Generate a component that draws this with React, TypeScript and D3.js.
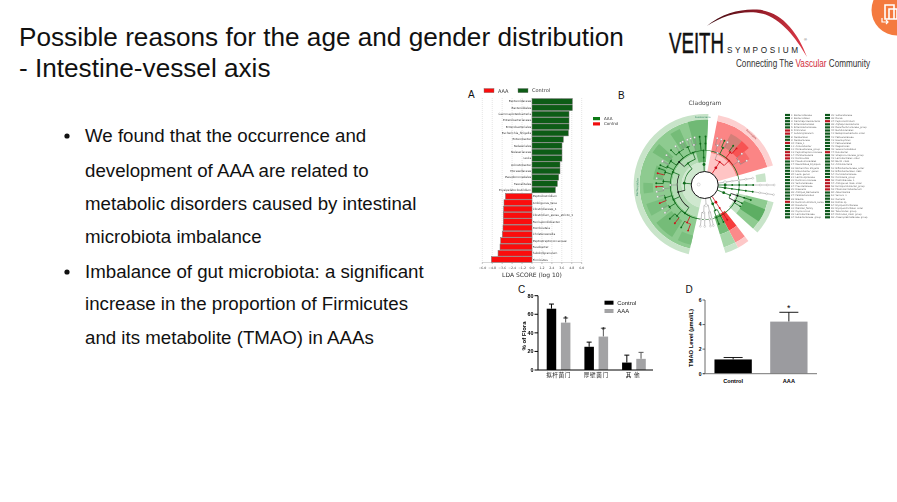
import * as React from 'react';
import * as d3 from 'd3';

const width = 897;
const height = 502;

const titleLines = ['Possible reasons for the age and gender distribution', '- Intestine-vessel axis'];
const bullets = [
  ['We found that the occurrence and', 'development of AAA are related to', 'metabolic disorders caused by intestinal', 'microbiota imbalance'],
  ['Imbalance of gut microbiota: a significant', 'increase in the proportion of Firmicutes', 'and its metabolite (TMAO) in AAAs'],
];

// panel A
const ldaTaxa = [
  'Bacteroidaceae', 'Bacteroidales', 'Gammaproteobacteria', 'Enterobacteriaceae', 'Enterobacteriales',
  'Escherichia_Shigella', 'Enterobacter', 'Neisseriales', 'Neisseriaceae', 'Levia', 'Acinetobacter',
  'Moraxellaceae', 'Pseudomonadales', 'Faecalitalea', 'Erysipelatoclostridium', 'Peptoclostridium',
  'Ambiguous_taxa', 'Clostridiaceae_1', 'Clostridium_sensu_stricto_1', 'Ferrispondiobacter', 'Romboutsia',
  'Christensenella', 'Peptostreptococcaceae', 'Fusobacter', 'Subdoligranulum', 'Firmicutes',
];
const ldaScores = [
  4.87, 4.87, 4.47, 4.47, 4.47, 4.39, 3.78, 3.62, 3.62, 3.62, 3.38, 3.38, 3.22, 3.06, 2.82,
  -3.2, -3.38, -3.42, -3.46, -3.46, -3.5, -3.58, -3.78, -3.86, -4.1, -4.9,
];
const ldaTicks = [-6, -4.8, -3.6, -2.4, -1.2, 0, 1.2, 2.4, 3.6, 4.8, 6];

// panel B: [start deg, end deg, inner ring, outer ring, colour]
type Sector = [number, number, number, number, string];
const sectors: Sector[] = [
  [193, 363, 0, 1, '#cfe8cf'], [193, 363, 1, 2, '#b5dcb6'], [193, 363, 2, 5.4, '#8ecb90'], [193, 363, 5.4, 6, '#c8e4c9'],
  [345, 363, 1, 5.4, '#6fb974'], [326, 336, 3, 5, '#74bc78'], [302, 312, 3, 5, '#74bc78'], [276, 292, 3, 4, '#74bc78'],
  [262, 272, 4, 5, '#7abf7e'], [240, 252, 3, 5, '#7abf7e'], [212, 232, 3, 5, '#74bc78'], [193, 206, 4, 5, '#7abf7e'],
  [11, 74, 0, 2, '#ffc4c4'], [11, 74, 2, 5.4, '#fb8585'], [11, 74, 5.4, 6, '#fdd0d0'],
  [27, 40, 3, 4.6, '#d37f78'], [40, 50, 3, 4.6, '#f75252'], [50, 60, 3, 4, '#f76a6a'],
  [79, 87, 4, 5, '#c8e4c9'],
  [104, 132, 2, 3, '#c0e1c1'], [104, 132, 3, 5.4, '#8ecb90'], [104, 132, 5.4, 6, '#c8e4c9'], [112, 124, 3, 5.4, '#5dae63'],
  [142, 152, 2, 4, '#f63c3c'], [142, 152, 4, 5.4, '#fb8a8a'], [142, 152, 5.4, 6, '#fdc8c8'],
  [152, 163, 2, 4, '#74bc78'], [152, 163, 4, 5.4, '#a5d6a7'], [152, 163, 5.4, 6, '#c8e4c9'],
];

type Clade = [number, string, Clade[]?];
// straight run of nodes at one angle, one tone letter per level
const chain = (angle: number, tones: string): Clade =>
  tones.length === 1 ? [angle, tones] : [angle, tones[0], [chain(angle, tones.slice(1))]];

const cladeTree: Clade[] = [
  [275, 'G', [
    [322, 'G', [
      [312, 'K', [[305, 'G', [[300, 'W'], [308, 'W']]], [322, 'G', [[316, 'G'], [323, 'W'], [330, 'W']]]]],
      [340, 'G', [[336, 'G', [[333, 'W'], [339, 'W']]], [345, 'W', [[343, 'W'], [348, 'W']]]]],
    ]],
    [255, 'K', [
      [292, 'G', [[288, 'G', [[284, 'R'], [290, 'G']]], [296, 'G', [[294, 'G'], [299, 'W']]]]],
      [270, 'W', [[265, 'W', [[262, 'W'], [268, 'R']]], [275, 'G', [[272, 'G'], [278, 'W']]]]],
      [245, 'G', [[252, 'G', [[248, 'R'], [256, 'W']]], [238, 'G', [[235, 'W'], [241, 'W']]]]],
      [215, 'G', [[222, 'G', [[218, 'R'], [226, 'G']]], [205, 'R', [[200, 'R'], [209, 'G']]]]],
    ]],
  ]],
  [358, 'G', [
    [358, 'G', [
      [358, 'G', [chain(354, 'GG'), chain(1, 'GG')]],
    ]],
  ]],
  [33, 'R', [
    [33, 'R', [
      [22, 'W', [[18, 'W', [[15, 'W'], [20, 'W']]], [26, 'G', [[24, 'G'], [28, 'W']]]]],
      [45, 'R', [[38, 'R', [[36, 'G'], [41, 'R']]], [55, 'W', [[50, 'W'], [60, 'W']]]]],
    ]],
  ]],
  chain(82, 'WWWWW'),
  chain(90, 'GGGGGWWW'),
  chain(98, 'GGGGGWWW'),
  [112, 'G', [
    [112, 'G', [
      chain(108, 'KGG'),
      [118, 'K', [[116, 'G'], [121, 'G']]],
    ]],
  ]],
  chain(147, 'RRRR'),
  [157, 'G', [
    [157, 'G', [chain(153, 'GG'), chain(160, 'GG')]],
  ]],
  [176, 'W', [
    [170, 'W', [chain(168, 'WW'), chain(172, 'WW')]],
    [182, 'W', [chain(180, 'WW'), chain(186, 'WW')]],
  ]],
];
const cladeColors: Record<string, string> = { G: '#0f6b1a', R: '#d0101a', K: '#111111', W: '#ffffff' };

const legendColA = [
  'Bacteroidaceae', 'Bacteroidales', 'Gammaproteobacteria', 'Enterobacteriales', 'Enterobacteriaceae', 'Firmicutes',
  'Subdoligranulum', 'Neisseriales', 'Neisseriaceae', 'Clade_1', 'Acinetobacter', 'Moraxellaceae_group',
  'Peptostreptococcaceae', 'Christensenella', 'Romboutsia', 'Pseudomonadales', 'Faecalitalea_Erysipelo', 'Escherichia_Shigella',
  'Enterobacter_genus', 'Levia_genus', 'Lachnospiraceae', 'Ruminococcaceae', 'Veillonellaceae', 'Prevotellaceae',
  'Rikenella', 'Alistipes_Barnesiella', 'Parabacteroides', 'Blautia', 'Ruminiclostridium_sensu', 'Roseburia',
  'Dialister_family', 'Coprococcus', 'Lactobacillaceae', 'Eubacteriaceae_group',
];
const legendColARed = [5, 6, 9, 12, 13, 14, 28];
const legendColB = [
  'Sutterellaceae', 'Dorea', 'Peptoclostridium', 'Alphaproteobacteria', 'Desulfovibrionaceae_group', 'Burkholderiales',
  'Betaproteobacteria_order', 'Pasteurellaceae', 'Haemophilus', 'Pasteurellales', 'Megamonas', 'Selenomonadales',
  'Fusobacter', 'Streptococcaceae_group', 'Lactobacillales_order', 'Bacilli_class', 'Actinobacteria', 'Bifidobacteriaceae_order',
  'Bifidobacteriales_class', 'Coriobacteriaceae', 'Collinsella_group', 'Clostridiaceae_1', 'Ambiguous_taxa_order', 'Ferrispondiobacter_group',
  'Phascolarctobacterium', 'Akkermansia', 'Verruco_1', 'Gemella', 'Rothia_sp', 'Erysipelotrichaceae', 'Erysipelotrichales_order', 'Tenericutes_group',
  'Mollicutes_class_group', 'Anaeroplasmataceae_group',
];
const legendColBRed = [2, 12, 21, 22, 23, 24];

// panel C
const floraGroups = ['拟杆菌门', '厚壁菌门', '其他'];
const floraSeries = ['Control', 'AAA'];
const floraValues = [[66, 25, 8], [51, 36, 12]];
const floraErrors = [[71, 30, 16], [56, 45, 19]];
const floraTicks = [0, 20, 40, 60, 80];

// panel D
const tmaoGroups = ['Control', 'AAA'];
const tmaoValues = [1.16, 4.24];
const tmaoErrors = [1.32, 5.0];
const tmaoTicks = [0, 2, 4, 6];

const sans = '"Liberation Sans", Arial, sans-serif';
const rad = (deg: number) => (deg * Math.PI) / 180;

const LdaPanel = () => {
  const x = d3.scaleLinear([-6, 6], [482.3, 581.7]);
  const y = d3.scaleBand(ldaTaxa, [98.6, 262.4]).paddingInner(0.1);
  return (
    <g fontFamily="'DejaVu Sans', sans-serif" filter="url(#soft)">
      {ldaTicks.map((t) => (
        <g key={t}>
          <line x1={x(t)} x2={x(t)} y1={98} y2={262.5} stroke="#bbbbbb" strokeWidth={0.4} strokeDasharray="1 1" />
          <line x1={x(t)} x2={x(t)} y1={262.5} y2={264} stroke="#666" strokeWidth={0.4} />
          <text x={x(t)} y={268.5} fontSize={3.2} fill="#444" textAnchor="middle">{t.toFixed(1).replace('-', '−')}</text>
        </g>
      ))}
      {ldaTaxa.map((name, i) => {
        const v = ldaScores[i];
        const pos = v > 0;
        return (
          <g key={name}>
            <rect x={Math.min(x(0), x(v))} y={y(name)} width={Math.abs(x(v) - x(0))} height={y.bandwidth()}
              fill={pos ? '#0b5c12' : '#fb0f0f'} stroke="#777" strokeWidth={0.5} />
            <text x={pos ? x(0) - 0.8 : x(0) + 0.8} y={y(name)! + y.bandwidth() / 2 + 1} fontSize={2.9} fill="#333"
              textAnchor={pos ? 'end' : 'start'}>{name}</text>
          </g>
        );
      })}
      <line x1={482} x2={582} y1={262.5} y2={262.5} stroke="#999" strokeWidth={0.4} />
      <text x={532} y={276.5} fontSize={6} fill="#333" textAnchor="middle">LDA SCORE (log 10)</text>
      <rect x={484} y={88.5} width={10} height={4.2} fill="#fb0f0f" stroke="#777" strokeWidth={0.4} />
      <text x={498} y={92.6} fontSize={5} fill="#333">AAA</text>
      <rect x={518} y={88.5} width={10} height={4.2} fill="#0b5c12" stroke="#777" strokeWidth={0.4} />
      <text x={532} y={92.2} fontSize={5} fill="#333">Control</text>
      <rect x={593} y={117} width={7} height={3.2} fill="#0b7a16" />
      <text x={604} y={120.2} fontSize={4} fill="#333">AAA</text>
      <rect x={593} y={122.3} width={7} height={3.2} fill="#f01010" />
      <text x={604} y={125.3} fontSize={4} fill="#333">Control</text>
    </g>
  );
};

const Cladogram = () => {
  const cx = 704.7;
  const cy = 185;
  const ring = d3.scaleLinear([0, 6], [13.5, 71]);
  const level = d3.scaleLinear([0, 8], [13.5, 69.5]);
  const arc = d3.arc();
  const pt = (deg: number, depth: number) => {
    const r = level(depth);
    return [cx + r * Math.sin(rad(deg)), cy - r * Math.cos(rad(deg))];
  };
  const edges: React.ReactNode[] = [];
  const dots: React.ReactNode[] = [];
  const walk = (node: Clade, depth: number, key: string) => {
    const [angle, tone, kids] = node;
    const [x0, y0] = pt(angle, depth - 1);
    const [x1, y1] = pt(angle, depth);
    const leafy = tone === 'W';
    const stroke = leafy ? '#888' : cladeColors[tone];
    edges.push(<line key={`e${key}`} x1={x0} y1={y0} x2={x1} y2={y1} stroke={stroke} strokeWidth={leafy ? 0.5 : 0.8} />);
    if (kids && kids.length) {
      const angles = kids.map((k) => k[0]);
      const a0 = Math.min(...angles, angle);
      const a1 = Math.max(...angles, angle);
      const r = level(depth);
      edges.push(
        <path key={`a${key}`} transform={`translate(${cx},${cy})`}
          d={arc({ innerRadius: r - 0.35, outerRadius: r + 0.35, startAngle: rad(a0), endAngle: rad(a1) })!}
          fill={leafy ? '#888' : cladeColors[tone]} />
      );
      kids.forEach((k, i) => walk(k, depth + 1, `${key}-${i}`));
    }
    dots.push(<circle key={`d${key}`} cx={x1} cy={y1} r={depth === 1 ? 1.4 : 0.95} fill={cladeColors[tone]} stroke={leafy ? '#777' : 'none'} strokeWidth={0.25} />);
  };
  cladeTree.forEach((n, i) => walk(n, 1, `${i}`));
  return (
    <g filter="url(#soft)">
      <text x={705} y={105} fontSize={6} fill="#444" textAnchor="middle" fontFamily="'DejaVu Sans', sans-serif">Cladogram</text>
      <g transform={`translate(${cx},${cy})`}>
        {sectors.map(([a0, a1, r0, r1, fill], i) => (
          <path key={i} fill={fill}
            d={arc({ innerRadius: ring(r0), outerRadius: ring(r1), startAngle: rad(a0), endAngle: rad(a1) })!} />
        ))}
      </g>
      {edges}
      <circle cx={cx} cy={cy} r={ring(0)} fill="#fff" stroke="#111" strokeWidth={1} />
      {dots}
      <circle cx={cx - 6} cy={cy - 0.5} r={1.5} fill="#fff" stroke="#999" strokeWidth={0.3} />
      <text transform={`translate(${cx + 46},${cy - 50}) rotate(42)`} fontSize={2.6} fill="#a33" fontFamily="'DejaVu Sans'" textAnchor="middle">Firmicutes</text>
      <text transform={`translate(${cx - 66.5},${cy + 2}) rotate(-88)`} fontSize={2.6} fill="#386" fontFamily="'DejaVu Sans'" textAnchor="middle">Bacteroidetes</text>
      <text transform={`translate(${cx - 2},${cy - 67})`} fontSize={2.4} fill="#386" fontFamily="'DejaVu Sans'" textAnchor="middle">Fusobacteria</text>
    </g>
  );
};

const CladeLegend = () => {
  const y = d3.scaleLinear([0, 33], [115, 217.3]);
  const column = (names: string[], reds: number[], x: number, start: number) =>
    names.map((name, i) => (
      <g key={name}>
        <rect x={x} y={y(i) - 1.1} width={5} height={2.2} fill={reds.includes(i) ? '#b81520' : '#11591c'} />
        <text x={x + 6} y={y(i) + 0.8} fontSize={2.3} fill="#666">{`${start + i}: ${name}`}</text>
      </g>
    ));
  return (
    <g fontFamily="'DejaVu Sans', sans-serif" filter="url(#soft)">
      {column(legendColA, legendColARed, 785, 1)}
      {column(legendColB, legendColBRed, 825, 35)}
    </g>
  );
};

const FloraPanel = () => {
  const x0 = d3.scaleBand(floraGroups, [538, 654.5]).paddingInner(0.371).paddingOuter(0.231);
  const x1 = d3.scaleBand(floraSeries, [0, x0.bandwidth()]).paddingInner(0.33);
  const y = d3.scaleLinear([0, 80], [370, 295.7]);
  const fills = ['#000000', '#a3a3a5'];
  return (
    <g fontFamily={sans} filter="url(#softer)">
      {floraSeries.map((s, si) =>
        floraGroups.map((g, gi) => {
          const bx = x0(g)! + x1(s)!;
          const mid = bx + x1.bandwidth() / 2;
          const tone = si === 0 ? '#000' : '#555';
          return (
            <g key={s + g}>
              <line x1={mid} x2={mid} y1={y(floraValues[si][gi])} y2={y(floraErrors[si][gi])} stroke={tone} strokeWidth={1} />
              <line x1={mid - 2.5} x2={mid + 2.5} y1={y(floraErrors[si][gi])} y2={y(floraErrors[si][gi])} stroke={tone} strokeWidth={1} />
              <rect x={bx} y={y(floraValues[si][gi])} width={x1.bandwidth()} height={y(0) - y(floraValues[si][gi])} fill={fills[si]} />
              {si === 1 && gi < 2 && <text x={mid} y={y(floraErrors[si][gi]) + 3.5} fontSize={7} fontWeight="bold" fill="#222" textAnchor="middle">*</text>}
            </g>
          );
        })
      )}
      <line x1={538} x2={538} y1={295.7} y2={370} stroke="#000" strokeWidth={1} />
      <line x1={538} x2={653} y1={370} y2={370} stroke="#000" strokeWidth={1} />
      {floraTicks.map((t) => (
        <g key={t}>
          <line x1={534.5} x2={538} y1={y(t)} y2={y(t)} stroke="#000" strokeWidth={1} />
          <text x={533.5} y={y(t) + 1.9} fontSize={5.4} fontWeight="bold" textAnchor="end">{t}</text>
        </g>
      ))}
      {floraGroups.map((g) => (
        <text key={g} x={x0(g)! + x0.bandwidth() / 2} y={377} fontSize={5.6} textAnchor="middle" letterSpacing={g.length < 3 ? 2.5 : 0.6}
          fontFamily='"Noto Sans CJK SC", sans-serif' fill="#222">{g}</text>
      ))}
      <text transform="translate(526,336) rotate(-90)" fontSize={6} fontWeight="bold" textAnchor="middle">% of Flora</text>
      {floraSeries.map((s, si) => (
        <g key={s}>
          <rect x={604.5} y={300.7 + si * 8.3} width={9} height={4} fill={fills[si]} />
          <text x={617.3} y={304.9 + si * 8.3} fontSize={5.9} fill="#222">{s}</text>
        </g>
      ))}
    </g>
  );
};

const TmaoPanel = () => {
  const x = d3.scaleBand(tmaoGroups, [705, 817]).paddingInner(0.33).paddingOuter(0.17);
  const y = d3.scaleLinear([0, 6], [373.7, 300]);
  const fills = ['#000000', '#9b9b9f'];
  return (
    <g fontFamily={sans}>
      {tmaoGroups.map((g, i) => {
        const mid = x(g)! + x.bandwidth() / 2;
        return (
          <g key={g}>
            <line x1={mid} x2={mid} y1={y(tmaoValues[i])} y2={y(tmaoErrors[i])} stroke="#000" strokeWidth={0.9} />
            <line x1={mid - 9.5} x2={mid + 9.5} y1={y(tmaoErrors[i])} y2={y(tmaoErrors[i])} stroke="#000" strokeWidth={0.9} />
            <rect x={x(g)} y={y(tmaoValues[i])} width={x.bandwidth()} height={y(0) - y(tmaoValues[i])} fill={fills[i]} />
            <text x={mid} y={382.5} fontSize={5.6} fontWeight="bold" textAnchor="middle">{g}</text>
          </g>
        );
      })}
      <text x={x('AAA')! + x.bandwidth() / 2} y={311} fontSize={9} textAnchor="middle">*</text>
      <line x1={705} x2={705} y1={300} y2={373.7} stroke="#444" strokeWidth={0.8} />
      <line x1={703} x2={817} y1={373.7} y2={373.7} stroke="#777" strokeWidth={1} />
      {tmaoTicks.map((t) => (
        <g key={t}>
          <line x1={702.5} x2={705} y1={y(t)} y2={y(t)} stroke="#444" strokeWidth={0.8} />
          <text x={701.5} y={y(t) + 1.8} fontSize={5} fontWeight="bold" textAnchor="end">{t}</text>
        </g>
      ))}
      <text transform="translate(692.5,338) rotate(-90)" fontSize={5.8} fontWeight="bold" textAnchor="middle">TMAO Level  (μmol/L)</text>
    </g>
  );
};

const Logo = () => (
  <g>
    <path d="M706.7 26 C722 13 742 8.6 757 9.6 C782 11 798 33 807 57 C795 36 778 14.6 756 12.4 C739 11 722 16 706.7 26 Z" fill="url(#swoosh)" />
    <text x={669} y={53} fontSize={30} fontFamily='"Liberation Sans Narrow", "Liberation Sans", sans-serif' textLength={55} lengthAdjust="spacingAndGlyphs" fill="#111" stroke="#111" strokeWidth={0.5}>VEITH</text>
    <text x={727} y={53} fontSize={8.2} fontFamily='"Liberation Sans Narrow", "Liberation Sans", sans-serif' textLength={71} fill="#222">SYMPOSIUM</text>
    <text x={804} y={41} fontSize={4} fontFamily={sans} fill="#555">®</text>
    <text x={736} y={66.5} fontSize={10} fontFamily={sans} textLength={134} lengthAdjust="spacingAndGlyphs" fill="#333">
      Connecting The <tspan fill="#d22b3a">Vascular</tspan> Community
    </text>
  </g>
);

const App = () => (
  <svg width={width} height={height} viewBox={`0 0 ${width} ${height}`} style={{ position: 'absolute', left: 0, top: 0, background: '#fff' }}>
    <defs>
      <filter id="soft" x="-5%" y="-5%" width="110%" height="110%"><feGaussianBlur stdDeviation="0.3" /></filter>
      <filter id="softer" x="-5%" y="-5%" width="110%" height="110%"><feGaussianBlur stdDeviation="0.18" /></filter>
      <linearGradient id="swoosh" x1="0" x2="1" y1="0" y2="0">
        <stop offset="0" stopColor="#3c0a10" />
        <stop offset="0.5" stopColor="#8f1a26" />
        <stop offset="1" stopColor="#e23a48" />
      </linearGradient>
    </defs>
    <g fontFamily={sans} fill="#111">
      <text x={19} y={46} fontSize={26.17}>{titleLines[0]}</text>
      <text x={19} y={77} fontSize={26.17}>{titleLines[1]}</text>
      {bullets.flat().map((line, i) => {
        const ys = [142, 177, 210, 243, 278, 310, 344];
        return <text key={line} x={85} y={ys[i]} fontSize={18.7}>{line}</text>;
      })}
      <circle cx={67} cy={136} r={2.6} />
      <circle cx={67} cy={272} r={2.6} />
    </g>
    <g fontFamily={sans} fontSize={10} fill="#111">
      <text x={468} y={98}>A</text>
      <text x={618} y={99}>B</text>
      <text x={518} y={293}>C</text>
      <text x={685.5} y={293}>D</text>
    </g>
    <LdaPanel />
    <Cladogram />
    <CladeLegend />
    <FloraPanel />
    <TmaoPanel />
    <Logo />
    <circle cx={897} cy={10} r={25.5} fill="#f47a3f" />
    <path d="M885 5h9v14h-9z M889 9h8v10h-8z" fill="none" stroke="#fff" strokeWidth={1.6} />
    <path d="M882 18v4h6 M886 20l2 2-2 2" fill="none" stroke="#fff" strokeWidth={1.2} />
  </svg>
);

export default App;
